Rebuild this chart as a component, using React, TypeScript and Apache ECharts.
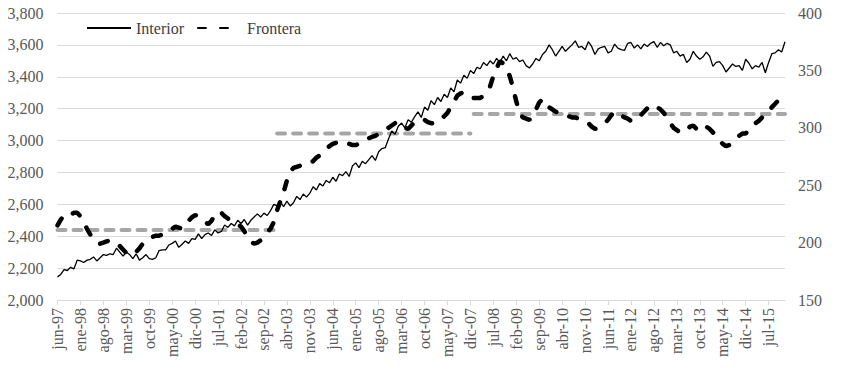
import React, { useEffect, useRef } from "react";
import * as echarts from "echarts";

const MONTHS = ["ene", "feb", "mar", "abr", "may", "jun", "jul", "ago", "sep", "oct", "nov", "dic"];
const START_YEAR = 1997;
const START_MONTH = 5; // jun
const N_MONTHS = 223; // jun-97 .. dic-15

const categories: string[] = [];
for (let i = 0; i < N_MONTHS; i++) {
  const m = (START_MONTH + i) % 12;
  const y = START_YEAR + Math.floor((START_MONTH + i) / 12);
  categories.push(MONTHS[m] + "-" + String(y % 100).padStart(2, "0"));
}

const interior = [
  2145, 2160, 2190, 2185, 2205, 2195, 2250, 2245, 2235, 2250,
  2255, 2270, 2245, 2265, 2285, 2280, 2290, 2285, 2325, 2300,
  2275, 2300, 2285, 2260, 2290, 2250, 2265, 2285, 2260, 2255,
  2265, 2310, 2315, 2315, 2345, 2355, 2370, 2330, 2350, 2370,
  2355, 2385, 2380, 2415, 2385, 2410, 2420, 2405, 2440, 2420,
  2430, 2470, 2455, 2480, 2465, 2500, 2480, 2505, 2470, 2500,
  2520, 2540, 2520, 2545, 2530, 2560, 2600, 2590, 2615, 2585,
  2620, 2590, 2610, 2650, 2630, 2665, 2645, 2670, 2710, 2690,
  2730, 2715, 2750, 2735, 2770, 2745, 2790, 2780, 2805, 2775,
  2840, 2860, 2830, 2870, 2855, 2880, 2905, 2875, 2930, 2950,
  2955, 3010, 3060, 3040, 3090, 3110, 3080, 3130, 3115, 3150,
  3180, 3145, 3210, 3190, 3250, 3225, 3270, 3245, 3290, 3270,
  3330, 3305, 3380, 3360, 3410, 3390, 3440, 3420, 3460, 3450,
  3490, 3470, 3500, 3480, 3515, 3490, 3530, 3500, 3545, 3510,
  3520, 3495, 3505, 3470, 3455, 3480, 3515, 3500, 3540, 3560,
  3600, 3570, 3530, 3560, 3590, 3560, 3580, 3600, 3625, 3585,
  3590, 3570, 3620, 3590, 3540, 3575, 3585, 3590, 3550, 3560,
  3605, 3580, 3570, 3565, 3610, 3615, 3580, 3600, 3575, 3605,
  3590, 3610, 3620, 3585, 3615, 3595, 3610, 3600, 3550, 3560,
  3530, 3540, 3490, 3510, 3560, 3530, 3510, 3525, 3555, 3530,
  3465, 3490, 3495, 3470, 3430, 3455, 3480, 3465, 3470, 3440,
  3510, 3485, 3450, 3470, 3460, 3490, 3425, 3490, 3545, 3550,
  3570, 3555, 3620,
];

const frontera = [
  215, 220, 224, 223, 224, 226, 226, 223, 218, 212,
  207, 203, 200, 199, 200, 201, 202, 201, 199, 197,
  194, 191, 189, 190, 192, 195, 199, 202, 204, 205,
  206, 206, 207, 209, 210, 212, 214, 213, 212, 215,
  219, 222, 224, 223, 221, 218, 216, 219, 224, 227,
  226, 223, 221, 219, 218, 216, 214, 210, 205, 201,
  199, 200, 202, 206, 209, 212, 218, 228, 236, 244,
  254, 262, 265, 266, 267, 268, 268, 269, 271, 274,
  276, 279, 282, 284, 286, 287, 288, 287, 286, 286,
  285, 285, 286, 287, 289, 291, 292, 293, 295, 296,
  298, 300, 302, 304, 305, 303, 300, 299, 302, 305,
  306, 307, 307, 305, 304, 304, 305, 308, 310, 313,
  318, 323, 328, 330, 331, 330, 328, 326, 326, 326,
  328, 332, 336, 345, 352, 358, 356, 352, 345, 335,
  323, 313, 309, 308, 307, 310, 316, 322, 325, 323,
  318, 316, 314, 313, 311, 311, 310, 309, 309, 308,
  306, 305, 304, 301, 299, 300, 302, 304, 307, 311,
  314, 313, 311, 309, 308, 306, 306, 308, 311, 314,
  317, 319, 320, 318, 316, 313, 309, 304, 300, 298,
  296, 296, 298, 301, 302, 299, 297, 299, 301, 299,
  296, 293, 289, 286, 284, 285, 288, 291, 293, 295,
  295, 298, 302, 304, 306, 309, 311, 314, 318, 321,
  324, 323, 322,
];

const periodAverages = [211, 295, 312];
const periodStart = [0, 67, 127];
const periodEnd = [66, 126, 222];
const periodLabelAt = [22, 79, 198];

const FONT = "'Liberation Serif', 'Times New Roman', serif";

export default function App() {
  const ref = useRef<HTMLDivElement>(null);

  useEffect(() => {
    if (!ref.current) return;
    const chart = echarts.init(ref.current, undefined, { renderer: "svg" });

    const avgSeries = periodAverages.map((avg, k) => ({
      name: "Promedio " + (k + 1),
      type: "line",
      yAxisIndex: 1,
      symbol: "none",
      silent: true,
      connectNulls: false,
      lineStyle: { color: "#a6a6a6", width: 4, type: [8, 8], cap: "round" },
      data: categories.map((_, i) => {
        if (i < periodStart[k] || i > periodEnd[k]) return null;
        if (i === periodLabelAt[k]) {
          return {
            value: avg,
            label: {
              show: true,
              position: "top",
              distance: 4,
              formatter: String(avg),
              color: "#000",
              fontFamily: FONT,
              fontSize: 16,
            },
          };
        }
        return avg;
      }),
      z: 1,
    }));

    chart.setOption({
      animation: false,
      backgroundColor: "#fff",
      textStyle: { fontFamily: FONT },
      grid: { left: 57.5, right: 57, top: 13, bottom: 69, containLabel: false },
      legend: {
        data: ["Interior", "Frontera"],
        left: 86,
        top: 20,
        padding: 0,
        itemWidth: 44,
        itemHeight: 14,
        itemGap: 13,
        itemStyle: { opacity: 0 },
        textStyle: { fontFamily: FONT, fontSize: 16, color: "#404040", padding: [0, 0, 0, 0] },
      },
      xAxis: {
        type: "category",
        data: categories,
        boundaryGap: false,
        axisLine: { lineStyle: { color: "#d9d9d9" } },
        axisTick: { interval: 6, length: 5, lineStyle: { color: "#d9d9d9" } },
        axisLabel: {
          interval: 6,
          rotate: 90,
          margin: 8,
          fontFamily: FONT,
          fontSize: 16,
          color: "#595959",
        },
        splitLine: { show: false },
      },
      yAxis: [
        {
          type: "value",
          position: "left",
          min: 2000,
          max: 3800,
          interval: 200,
          axisLine: { show: false },
          axisTick: { show: false },
          axisLabel: {
            margin: 14,
            fontFamily: FONT,
            fontSize: 16,
            color: "#595959",
            formatter: (v: number) => v.toLocaleString("en-US"),
          },
          splitLine: { lineStyle: { color: "#d9d9d9", width: 1 } },
        },
        {
          type: "value",
          position: "right",
          min: 150,
          max: 400,
          interval: 50,
          axisLine: { show: false },
          axisTick: { show: false },
          axisLabel: { margin: 13, fontFamily: FONT, fontSize: 16, color: "#595959" },
          splitLine: { show: false },
        },
      ],
      series: [
        ...avgSeries,
        {
          name: "Interior",
          type: "line",
          yAxisIndex: 0,
          symbol: "none",
          data: interior,
          lineStyle: { color: "#000", width: 1.3 },
          itemStyle: { color: "#000" },
          z: 3,
        },
        {
          name: "Frontera",
          type: "line",
          yAxisIndex: 1,
          symbol: "none",
          data: frontera,
          lineStyle: { color: "#000", width: 4.5, type: [8, 14], cap: "round" },
          itemStyle: { color: "#000" },
          z: 4,
        },
      ],
    });

    return () => chart.dispose();
  }, []);

  return (
    <div
      ref={ref}
      style={{ position: "fixed", left: 0, top: 0, width: 842, height: 369, background: "#fff" }}
    />
  );
}
